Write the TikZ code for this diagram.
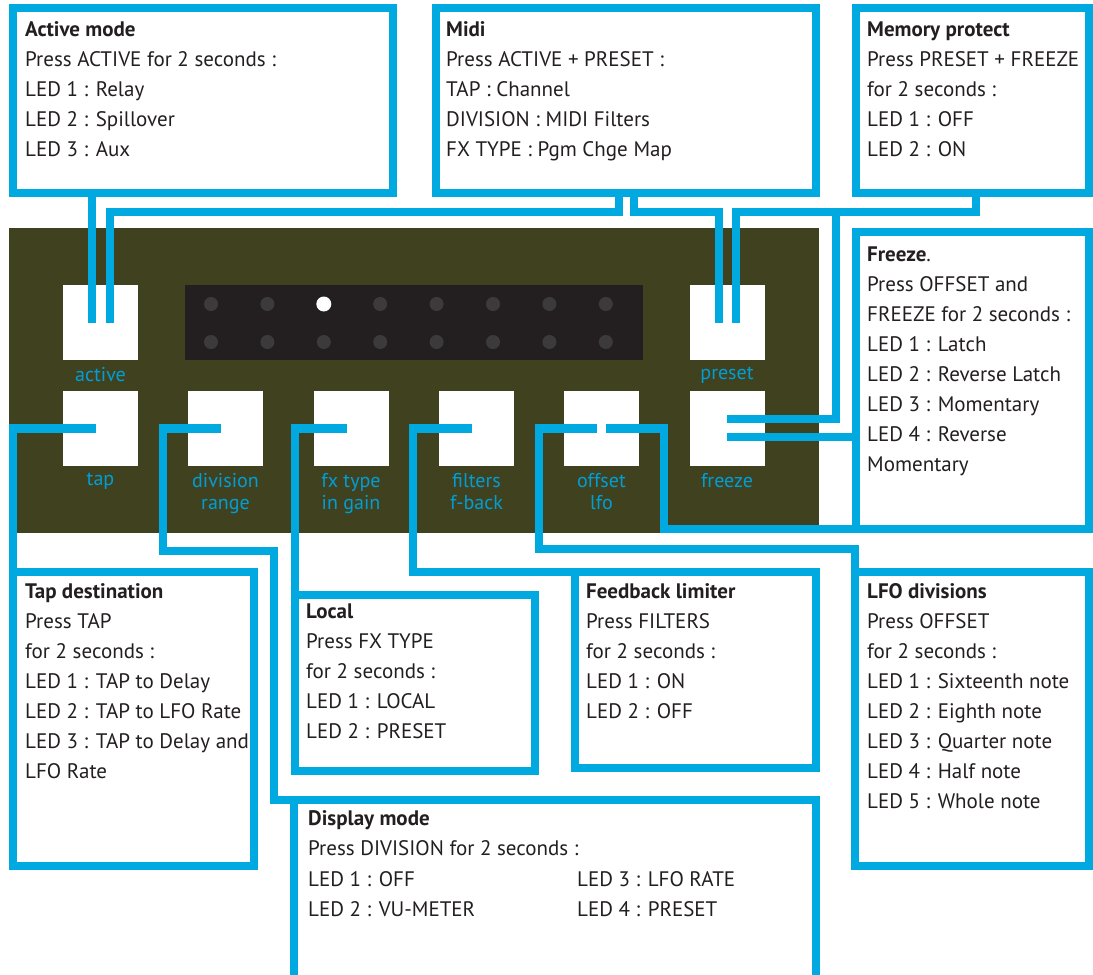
\documentclass[tikz,border=0pt]{standalone}
\usepackage{fontspec}
\setmainfont{PT Sans}
\usetikzlibrary{positioning}
\definecolor{cyan1}{RGB}{0,169,224}
\definecolor{cyan2}{RGB}{0,158,214}
\definecolor{olive1}{RGB}{64,66,31}
\definecolor{screen1}{RGB}{35,31,32}
\definecolor{ledoff1}{RGB}{60,58,58}
\definecolor{ink1}{RGB}{35,31,32}

\begin{document}
\begin{tikzpicture}[x=1pt, y=-1pt,
  infobox/.style={draw=cyan1, line width=8.5pt, fill=white, anchor=north west, inner sep=0pt, outer sep=0pt},
  infotext/.style={anchor=north west, align=left, inner sep=0pt, text=ink1, font=\fontsize{21}{30}\selectfont},
  button/.style={fill=white, minimum size=75pt, inner sep=0pt, outer sep=0pt},
  btnlabel/.style={inner sep=0pt, align=center, text=cyan2, font=\fontsize{20}{22}\selectfont},
  wire/.style={draw=cyan1, line width=8.5pt}]
  \useasboundingbox (0,0) rectangle (1093,975);

  % front panel
  \fill[olive1] (9,228) rectangle (819,533);
  \fill[screen1] (185,285) rectangle (643,360);
  \foreach \i in {0,...,7}
    \foreach \j in {304,342}
      \fill[ledoff1] (211+56.4*\i,\j) circle (7pt);
  \fill[white] (323.8,304) circle (7.5pt);

  % buttons
  \node[button] (active) at (100.5,322.5) {};
  \node[button] (preset) at (727,322.5) {};
  \node[button] (tap) at (100.5,428.5) {};
  \node[button] (division) at (225.5,428.5) {};
  \node[button] (fxtype) at (351,428.5) {};
  \node[button] (filters) at (476.5,428.5) {};
  \node[button] (offset) at (601.5,428.5) {};
  \node[button] (freeze) at (727,428.5) {};
  \node[btnlabel, below=7pt of active] (activelbl) {active};
  \node[btnlabel, below=7pt of preset] (presetlbl) {preset};
  \node[btnlabel, below=7pt of tap] (taplbl) {tap};
  \node[btnlabel, below=7pt of division] (divisionlbl) {division\\range};
  \node[btnlabel, below=7pt of fxtype] (fxtypelbl) {fx type\\in gain};
  \node[btnlabel, below=7pt of filters] (filterslbl) {filters\\f-back};
  \node[btnlabel, below=7pt of offset] (offsetlbl) {offset\\lfo};
  \node[btnlabel, below=7pt of freeze] (freezelbl) {freeze};

  % info boxes
  \node[infobox, minimum width=380pt, minimum height=185pt] (activebox) at (13,8) {};
  \node[infobox, minimum width=380pt, minimum height=185pt] (midibox) at (436,8) {};
  \node[infobox, minimum width=233pt, minimum height=185pt] (memorybox) at (856,8) {};
  \node[infobox, minimum width=233pt, minimum height=297pt] (freezebox) at (856,232) {};
  \node[infobox, minimum width=241pt, minimum height=294pt] (tapbox) at (13,572) {};
  \node[infobox, minimum width=240pt, minimum height=176pt] (localbox) at (295,595) {};
  \node[infobox, minimum width=241pt, minimum height=196pt] (feedbackbox) at (575,572) {};
  \node[infobox, minimum width=234pt, minimum height=294pt] (lfobox) at (855,572) {};
  \node[infobox, minimum width=522pt, minimum height=200pt] (displaybox) at (294,800) {};

  % connectors
  \coordinate (fork) at (836,212);
  \draw[wire] ([xshift=-8.5pt]active.center) -- ([xshift=-8.5pt]active.center |- activebox.south);
  \draw[wire] ([xshift=-7pt]midibox.south) -- ++(0,19) -| ([xshift=9.5pt]active.center);
  \draw[wire] ([xshift=8pt]midibox.south) -- ++(0,19) -| ([xshift=-8pt]preset.center);
  \draw[wire] ([xshift=3.5pt]memorybox.south) -- ++(0,19) -| ([xshift=9pt]preset.center);
  \draw[wire] (fork) |- ([yshift=9.5pt]freeze.center);
  \draw[wire] ([yshift=-8.5pt]freeze.center) -- ([yshift=-8.5pt]freeze.center -| freezebox.west);
  \draw[wire] ([xshift=-4.5pt]tap.center) -| (tapbox.north west);
  \draw[wire] ([xshift=-4.5pt]division.center) -| (163,551) -| (274,800) -- (displaybox.north west);
  \draw[wire] ([xshift=-4.5pt]fxtype.center) -| (localbox.north west);
  \draw[wire] ([xshift=-4.5pt]filters.center) -| (413,572) -- (feedbackbox.north west);
  \draw[wire] ([xshift=-4.5pt]offset.center) -| (539,549) -| (lfobox.north west);
  \draw[wire] ([xshift=4.5pt]offset.center) -| (664,529) -- (freezebox.south west);

  % texts
  \node[infotext] (activetxt) at (25,21) {\textbf{Active mode}\\Press ACTIVE for 2 seconds :\\LED 1 : Relay\\LED 2 : Spillover\\LED 3 : Aux};
  \node[infotext] (miditxt) at (446,21) {\textbf{Midi}\\Press ACTIVE + PRESET :\\TAP : Channel\\DIVISION : MIDI Filters\\FX TYPE : Pgm Chge Map};
  \node[infotext] (memorytxt) at (867,22) {\textbf{Memory protect}\\Press PRESET + FREEZE\\for 2 seconds :\\LED 1 : OFF\\LED 2 : ON};
  \node[infotext] (freezetxt) at (867,247) {\textbf{Freeze}.\\Press OFFSET and\\FREEZE for 2 seconds :\\LED 1 : Latch\\LED 2 : Reverse Latch\\LED 3 : Momentary\\LED 4 : Reverse\\Momentary};
  \node[infotext] (taptxt) at (25,583) {\textbf{Tap destination}\\Press TAP\\for 2 seconds :\\LED 1 : TAP to Delay\\LED 2 : TAP to LFO Rate\\LED 3 : TAP to Delay and\\LFO Rate};
  \node[infotext] (localtxt) at (306,604) {\textbf{Local}\\Press FX TYPE\\for 2 seconds :\\LED 1 : LOCAL\\LED 2 : PRESET};
  \node[infotext] (feedbacktxt) at (586,583) {\textbf{Feedback limiter}\\Press FILTERS\\for 2 seconds :\\LED 1 : ON\\LED 2 : OFF};
  \node[infotext] (lfotxt) at (867,583) {\textbf{LFO divisions}\\Press OFFSET\\for 2 seconds :\\LED 1 : Sixteenth note\\LED 2 : Eighth note\\LED 3 : Quarter note\\LED 4 : Half note\\LED 5 : Whole note};
  \node[infotext] (displaytxt) at (308,810) {\textbf{Display mode}\\Press DIVISION for 2 seconds :};
  \node[infotext] (displayleds1) at (308,871) {LED 1 : OFF\\LED 2 : VU-METER};
  \node[infotext] (displayleds2) at (577,871) {LED 3 : LFO RATE\\LED 4 : PRESET};
\end{tikzpicture}
\end{document}
